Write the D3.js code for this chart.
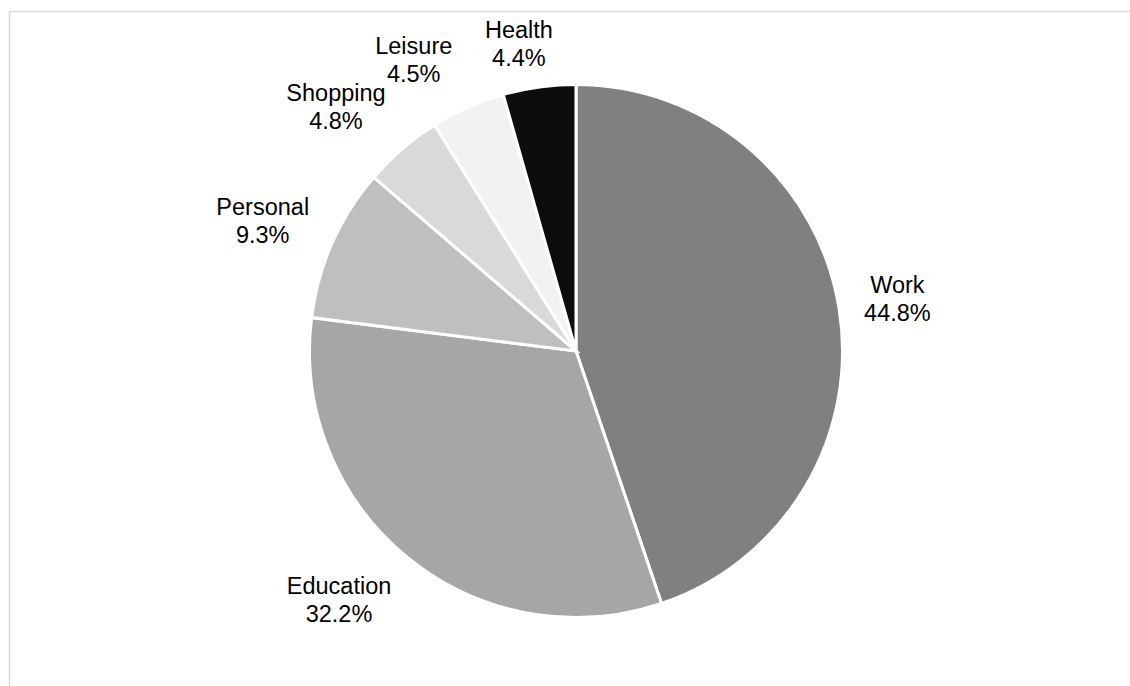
<!DOCTYPE html>
<html>
<head>
<meta charset="utf-8">
<script src="https://cdn.jsdelivr.net/npm/d3@7"></script>
<style>
  html, body { margin: 0; padding: 0; background: #fff; }
  svg { display: block; }
</style>
</head>
<body>
<svg id="chart" width="1130" height="686"></svg>
<script>
// Share of trips by purpose (%)
const categories = ["Work", "Education", "Personal", "Shopping", "Leisure", "Health"];
const shares = [44.8, 32.2, 9.3, 4.8, 4.5, 4.4];
const palette = ["#808080", "#a6a6a6", "#bfbfbf", "#d9d9d9", "#f2f2f2", "#0d0d0d"];

const W = 1130, H = 686;
const cx = 576, cy = 351, radius = 266.5;
const fontSize = 23.5, lineGap = 28;
const frameTop = 11;

const svg = d3.select("#chart");

// chart area frame (only the top and left edges fall inside the view)
svg.append("rect")
  .attr("x", 9.5).attr("y", frameTop + 0.5)
  .attr("width", W + 20).attr("height", H + 20)
  .attr("fill", "none")
  .attr("stroke", "#d9d9d9")
  .attr("stroke-width", 1.5);

const color = d3.scaleOrdinal().domain(categories).range(palette);

const pie = d3.pie().sort(null).value(d => d.value);
const data = pie(categories.map((c, i) => ({ name: c, value: shares[i] })));

const arc = d3.arc().innerRadius(0).outerRadius(radius);

const g = svg.append("g").attr("transform", `translate(${cx},${cy})`);

g.selectAll("path.slice")
  .data(data)
  .join("path")
  .attr("class", "slice")
  .attr("d", arc)
  .attr("fill", d => color(d.data.name))
  .attr("stroke", "#fff")
  .attr("stroke-width", 3);

// labels: category name over percentage, placed outside the slice end
const fmt = d => d.toFixed(1) + "%";
const labels = svg.append("g")
  .attr("font-family", "'Liberation Sans', Arial, Helvetica, sans-serif")
  .attr("font-size", fontSize)
  .attr("fill", "#000")
  .attr("text-anchor", "middle");

const items = data.map(d => {
  const t = labels.append("text");
  t.append("tspan").text(d.data.name);
  t.append("tspan").text(fmt(d.data.value));
  const w = Math.max(...t.selectAll("tspan").nodes().map(n => n.getComputedTextLength()));
  return { d, t, a: w / 2, b: lineGap + 1.5, theta: (d.startAngle + d.endAngle) / 2 };
});

const labelR = radius + 25.5;
const minCenterY = frameTop + 3.7 + lineGap + 1.5;
function place(it) {
  const s = Math.sin(it.theta), c = Math.cos(it.theta);
  it.x = cx + labelR * s + it.a * Math.sign(s);
  it.y = Math.max(minCenterY, cy - labelR * c - it.b * c);
}
// glyph boxes are a little shorter than the line boxes
function overlaps(p, q, padX) {
  return Math.abs(p.x - q.x) < p.a + q.a + padX &&
         Math.abs(p.y - q.y) < (p.b - 7.5) + (q.b - 7.5);
}

items.forEach(place);
// spread neighbouring labels apart, walking back from the last slice
const step = Math.PI / 720;
for (let i = items.length - 2; i >= 0; i--) {
  const p = items[i], q = items[i + 1];
  let guard = 0;
  while (overlaps(p, q, 32) && guard++ < 600) {
    p.theta -= step * 0.25;
    q.theta += step * 0.75;
    place(p); place(q);
  }
}

items.forEach(it => {
  const base = it.y - it.b + 23.7;
  it.t.selectAll("tspan")
    .attr("x", it.x)
    .attr("y", (d, k) => base + k * lineGap);
});
</script>
</body>
</html>
